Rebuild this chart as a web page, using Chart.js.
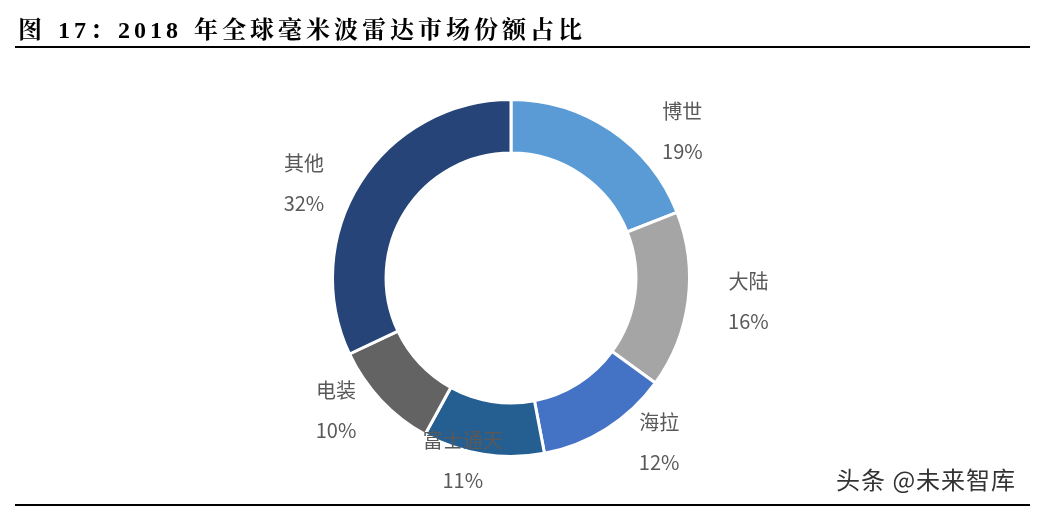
<!DOCTYPE html>
<html><head><meta charset="utf-8">
<script src="https://cdn.jsdelivr.net/npm/chart.js@4"></script>
<style>
body{margin:0;width:1045px;height:507px;background:#fff;position:relative;overflow:hidden;font-family:"Noto Sans CJK SC",sans-serif}
#t{position:absolute;left:18px;top:10px;font:bold 24px "Liberation Serif","Noto Serif CJK SC","Noto Sans CJK SC",serif;color:#000;letter-spacing:4px;word-spacing:2px}
.ln{position:absolute;left:15px;width:1015px;height:2px;background:#000}
#wm{position:absolute;left:836px;top:461px;font-size:24px;color:#333;letter-spacing:1px}
canvas{position:absolute;left:0;top:0}
</style></head><body>
<canvas id="c" width="1045" height="507"></canvas>
<div id="t">图 17：2018 年全球毫米波雷达市场份额占比</div>
<div class="ln" style="top:46px"></div>
<div class="ln" style="top:504px"></div>
<div id="wm">头条 @未来智库</div>
<script>
const categories=["博世","大陆","海拉","富士通天","电装","其他"];
const shares=[19,16,12,11,10,32];
const colors=["#5B9BD5","#A5A5A5","#4472C4","#255E91","#636363","#264478"];
const labelOffsets=[[0.96,-0.82],[1.33,0.13],[0.83,0.92],[-0.27,1.02],[-0.98,0.74],[-1.16,-0.53]];
const lbl={id:'lbl',afterDraw(ch){const a=ch.getDatasetMeta(0).data[0];const g=ch.ctx;g.save();g.fillStyle='#595959';g.font='20px "Noto Sans CJK SC",sans-serif';g.textAlign='center';g.textBaseline='middle';
categories.forEach((c,i)=>{const x=a.x+labelOffsets[i][0]*a.outerRadius,y=a.y+labelOffsets[i][1]*a.outerRadius;g.fillText(c,x,y-20);g.fillText(shares[i]+'%',x,y+20);});g.restore();}};
new Chart(document.getElementById('c'),{type:'doughnut',data:{labels:categories,datasets:[{data:shares,backgroundColor:colors,borderColor:'#fff',borderWidth:3}]},
options:{responsive:false,animation:false,cutout:'70%',layout:{padding:{left:331,right:354,top:98,bottom:49}},plugins:{legend:{display:false},tooltip:{enabled:false}}},plugins:[lbl]});
</script></body></html>
